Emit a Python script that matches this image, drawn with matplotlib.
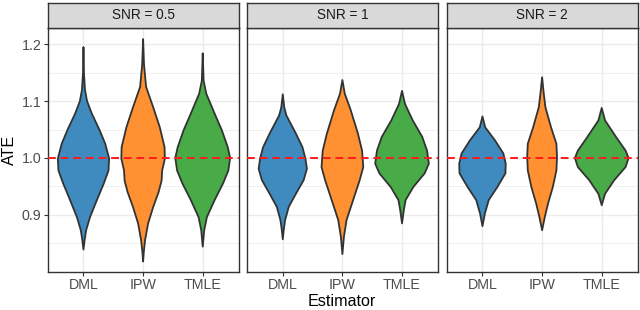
import numpy as np
import matplotlib.pyplot as plt

plt.rcParams["font.family"] = ["Liberation Sans", "DejaVu Sans"]

# Facets and estimators
snr_titles = ["SNR = 0.5", "SNR = 1", "SNR = 2"]
estimators = ["DML", "IPW", "TMLE"]
fill_colors = ["#3f8abf", "#ff9132", "#48ab48"]

# Violin outlines: ATE values (top -> bottom) and half widths
dml_05_y = [1.195, 1.15, 1.12, 1.10, 1.078, 1.049, 1.025, 0.999, 0.978, 0.955, 0.926, 0.896, 0.873, 0.856, 0.839]
dml_05_w = [0.0, 0.008, 0.025, 0.06, 0.14, 0.27, 0.365, 0.43, 0.42, 0.34, 0.225, 0.11, 0.045, 0.02, 0.0]
ipw_05_y = [1.209, 1.165, 1.125, 1.089, 1.054, 1.019, 0.999, 0.978, 0.960, 0.940, 0.914, 0.885, 0.856, 0.835, 0.818]
ipw_05_w = [0.0, 0.015, 0.05, 0.17, 0.28, 0.36, 0.365, 0.32, 0.31, 0.26, 0.17, 0.084, 0.034, 0.012, 0.0]
tmle_05_y = [1.184, 1.136, 1.113, 1.078, 1.049, 1.019, 1.0, 0.978, 0.955, 0.926, 0.896, 0.873, 0.844]
tmle_05_w = [0.0, 0.015, 0.06, 0.20, 0.32, 0.42, 0.46, 0.43, 0.34, 0.20, 0.07, 0.025, 0.0]

dml_1_y = [1.112, 1.089, 1.075, 1.043, 1.019, 0.999, 0.981, 0.961, 0.937, 0.914, 0.891, 0.875, 0.857]
dml_1_w = [0.0, 0.025, 0.06, 0.22, 0.33, 0.38, 0.405, 0.35, 0.22, 0.10, 0.04, 0.018, 0.0]
ipw_1_y = [1.137, 1.113, 1.084, 1.043, 1.013, 0.984, 0.961, 0.926, 0.891, 0.861, 0.831]
ipw_1_w = [0.0, 0.04, 0.14, 0.26, 0.33, 0.35, 0.29, 0.18, 0.07, 0.025, 0.0]
tmle_1_y = [1.118, 1.095, 1.066, 1.037, 1.013, 0.990, 0.973, 0.949, 0.926, 0.908, 0.885]
tmle_1_w = [0.0, 0.05, 0.18, 0.34, 0.42, 0.45, 0.38, 0.19, 0.06, 0.03, 0.0]

dml_2_y = [1.073, 1.054, 1.031, 1.008, 0.990, 0.973, 0.949, 0.926, 0.902, 0.880]
dml_2_w = [0.0, 0.045, 0.21, 0.35, 0.39, 0.385, 0.25, 0.105, 0.04, 0.0]
ipw_2_y = [1.142, 1.113, 1.089, 1.054, 1.025, 1.002, 0.978, 0.949, 0.920, 0.896, 0.873]
ipw_2_w = [0.0, 0.028, 0.056, 0.15, 0.24, 0.25, 0.24, 0.18, 0.10, 0.045, 0.0]
tmle_2_y = [1.088, 1.066, 1.037, 1.013, 1.0, 0.984, 0.961, 0.937, 0.917]
tmle_2_w = [0.0, 0.056, 0.24, 0.40, 0.45, 0.40, 0.21, 0.056, 0.0]

violins = [
    [(dml_05_y, dml_05_w), (ipw_05_y, ipw_05_w), (tmle_05_y, tmle_05_w)],
    [(dml_1_y, dml_1_w), (ipw_1_y, ipw_1_w), (tmle_1_y, tmle_1_w)],
    [(dml_2_y, dml_2_w), (ipw_2_y, ipw_2_w), (tmle_2_y, tmle_2_w)],
]

true_ate = 1.0
yticks = [0.9, 1.0, 1.1, 1.2]
yminor = [0.85, 0.95, 1.05, 1.15]

W, H = 640, 310
fig = plt.figure(figsize=(W / 100, H / 100), dpi=100)

panel_left = [47.7, 247.0, 446.7]
panel_w = 190.8
panel_top, panel_bot = 28.3, 272.3
strip_top = 2.5

for i, title in enumerate(snr_titles):
    ax = fig.add_axes([panel_left[i] / W, 1 - panel_bot / H,
                       panel_w / W, (panel_bot - panel_top) / H])
    ax.set_xlim(0.4, 3.6)
    ax.set_ylim(0.799, 1.228)
    ax.set_xticks([1, 2, 3])
    ax.set_xticklabels(estimators)
    ax.set_yticks(yticks)
    ax.set_yticks(yminor, minor=True)
    ax.set_yticklabels([f"{t:.1f}" for t in yticks])
    ax.grid(which="major", color="#ebebeb", lw=1.0, zorder=0)
    ax.grid(which="minor", axis="y", color="#ebebeb", lw=0.5, zorder=0)
    ax.set_axisbelow(True)
    ax.tick_params(which="major", length=2.9, width=0.8, color="#333333",
                   labelsize=10.3, labelcolor="#4d4d4d", pad=1.5)
    ax.tick_params(which="minor", length=0)
    if i > 0:
        ax.tick_params(axis="y", which="major", length=0, labelleft=False)
    for s in ax.spines.values():
        s.set_color("#333333")
        s.set_linewidth(1.0)

    for j, (yv, wv) in enumerate(violins[i]):
        yv = np.array(yv)
        wv = np.array(wv)
        xs = np.concatenate([j + 1 - wv, (j + 1 + wv)[::-1]])
        ys = np.concatenate([yv, yv[::-1]])
        ax.fill(xs, ys, facecolor=fill_colors[j], edgecolor="#333333",
                lw=1.3, joinstyle="round", zorder=2)

    ax.axhline(true_ate, color="#ff1a1a", lw=1.4, ls=(0, (4, 2.5)), zorder=3)

    # facet strip
    sax = fig.add_axes([panel_left[i] / W, 1 - panel_top / H,
                        panel_w / W, (panel_top - strip_top) / H])
    sax.set_facecolor("#d9d9d9")
    sax.set_xticks([])
    sax.set_yticks([])
    for s in sax.spines.values():
        s.set_color("#333333")
        s.set_linewidth(1.0)
    sax.text(0.5, 0.5, title, ha="center", va="center", fontsize=9.8,
             color="#1a1a1a", transform=sax.transAxes)

fig.text(9.5 / W, 1 - 150.3 / H, "ATE", rotation=90, ha="center", va="center",
         fontsize=11.6, color="black")
fig.text(342 / W, 1 - 302 / H, "Estimator", ha="center", va="center",
         fontsize=11.6, color="black")

fig.savefig("out.png", dpi=100)
